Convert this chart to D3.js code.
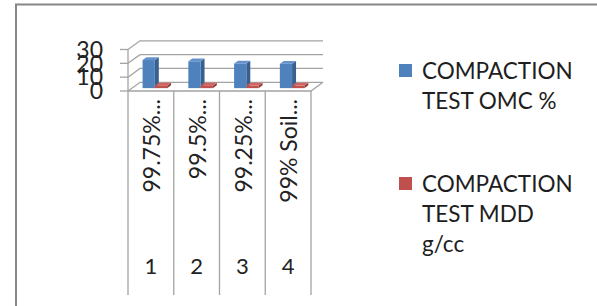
<!DOCTYPE html>
<html>
<head>
<meta charset="utf-8">
<script src="https://cdn.jsdelivr.net/npm/d3@7"></script>
<style>
  body { margin: 0; background: #fff; }
  svg { display: block; font-family: Lato, "Open Sans", sans-serif; }
</style>
</head>
<body>
<svg width="597" height="306"></svg>
<script>
// chart values
var categories = ["99.75%...", "99.5%...", "99.25%...", "99% Soil..."];
var categoryNumbers = ["1", "2", "3", "4"];
var omcValues = [20.3, 19.4, 17.8, 17.6];
var mddValues = [1.78, 1.80, 1.82, 1.84];
var yTicks = [0, 10, 20, 30];
var legendLines = [["COMPACTION", "TEST OMC %"], ["COMPACTION", "TEST MDD", "g/cc"]];

var svg = d3.select('svg');

// outer frame (runs off the right and bottom edge)
svg.append('rect')
    .attr('x', 16).attr('y', 4.5)
    .attr('width', 620).attr('height', 330)
    .attr('fill', 'none')
    .attr('stroke', '#878787')
    .attr('stroke-width', 2);

var depth = {dx: 12, dy: -8.7};
var y = d3.scaleLinear().domain([0, 30]).range([91, 49.5]);
var x = d3.scaleBand().domain(categories).range([128, 311]);

var gridColor = '#a3a3a3';
var grid = svg.append('g')
    .attr('stroke', gridColor)
    .attr('stroke-width', 1.3)
    .attr('fill', 'none');

// back wall + side wall gridlines
yTicks.forEach(function(t) {
  var yy = y(t);
  grid.append('polyline')
      .attr('points', [[128, yy], [128 + depth.dx, yy + depth.dy], [311 + depth.dx, yy + depth.dy]].join(' '));
});
// floor front edge and right edge
grid.append('polyline')
    .attr('points', [[128, y(0)], [311, y(0)], [311 + depth.dx, y(0) + depth.dy]].join(' '));
// value axis line + ticks
grid.append('line').attr('x1', 128).attr('x2', 128).attr('y1', y(30)).attr('y2', y(0));
grid.selectAll('.tick')
    .data(yTicks)
    .enter().append('line')
    .attr('x1', 120).attr('x2', 128)
    .attr('y1', function(d) { return y(d); })
    .attr('y2', function(d) { return y(d); });

// category divider lines
var edges = categories.map(function(c) { return x(c); }).concat([x.range()[1]]);
grid.selectAll('.div')
    .data(edges)
    .enter().append('line')
    .attr('x1', function(d) { return d; })
    .attr('x2', function(d) { return d; })
    .attr('y1', y(0)).attr('y2', 295);

// y tick labels (they overlap in the original too)
svg.selectAll('.ylab')
    .data(yTicks)
    .enter().append('text')
    .attr('x', 103)
    .attr('y', function(d) { return y(d); })
    .attr('dy', '0.36em')
    .attr('text-anchor', 'end')
    .attr('font-size', 23)
    .attr('fill', '#222')
    .text(function(d) { return d; });

// 3D bars
var series = [
  {values: omcValues, front: '#4f81bd', side: '#385f8f', top: '#6592cc'},
  {values: mddValues, front: '#c0504d', side: '#8e3a38', top: '#d1625f'}
];
var f0 = 0.33, f1 = 0.33;
var barW = 12.25, pad = (x.bandwidth() - barW * 2) / 2;
var bars = svg.append('g');

categories.forEach(function(c, i) {
  series.forEach(function(s, j) {
    var x0 = x(c) + pad + j * barW + depth.dx * f0;
    var x1 = x0 + barW;
    var yb = y(0) + depth.dy * f0;
    var yt = y(s.values[i]) + depth.dy * f0;
    var ddx = depth.dx * f1, ddy = depth.dy * f1;
    bars.append('polygon')
        .attr('points', [[x1, yt], [x1 + ddx, yt + ddy], [x1 + ddx, yb + ddy], [x1, yb]].join(' '))
        .attr('fill', s.side);
    bars.append('polygon')
        .attr('points', [[x0, yt], [x1, yt], [x1 + ddx, yt + ddy], [x0 + ddx, yt + ddy]].join(' '))
        .attr('fill', s.top);
    bars.append('rect')
        .attr('x', x0).attr('y', yt)
        .attr('width', barW).attr('height', yb - yt)
        .attr('fill', s.front);
  });
});

// category labels (rotated) and numbers
svg.selectAll('.clab')
    .data(categories)
    .enter().append('text')
    .attr('transform', function(d) {
      return 'translate(' + (x(d) + x.bandwidth() / 2 + 1) + ',99) rotate(-90)';
    })
    .attr('dy', '0.36em')
    .attr('text-anchor', 'end')
    .attr('font-size', 23)
    .attr('fill', '#222')
    .text(function(d) { return d; });

svg.selectAll('.cnum')
    .data(categoryNumbers)
    .enter().append('text')
    .attr('x', function(d, i) { return x(categories[i]) + x.bandwidth() / 2; })
    .attr('y', 274)
    .attr('text-anchor', 'middle')
    .attr('font-size', 22)
    .attr('fill', '#222')
    .text(function(d) { return d; });

// legend
var legendTop = [71, 184];
var legend = svg.selectAll('.leg')
    .data(series)
    .enter().append('g')
    .attr('transform', function(d, i) { return 'translate(399,' + legendTop[i] + ')'; });
legend.append('rect')
    .attr('x', 0).attr('y', -7)
    .attr('width', 13).attr('height', 13)
    .attr('fill', function(d) { return d.front; });
legend.each(function(d, i) {
  d3.select(this).selectAll('text')
      .data(legendLines[i])
      .enter().append('text')
      .attr('x', 23)
      .attr('y', function(t, k) { return 8 + k * 30; })
      .attr('font-size', 22.5)
      .attr('fill', '#1e1e1e')
      .text(function(t) { return t; });
});
</script>
</body>
</html>
